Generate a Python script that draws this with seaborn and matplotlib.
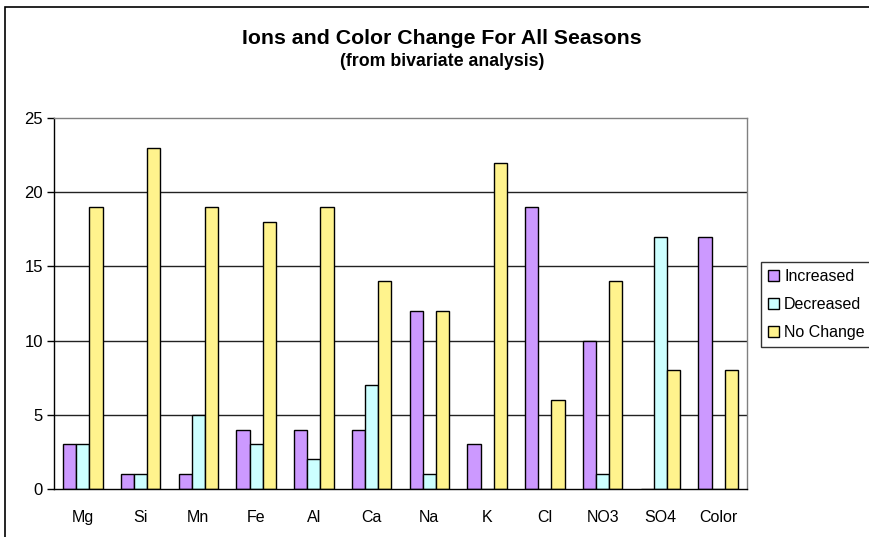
import matplotlib
matplotlib.use("Agg")
import matplotlib.pyplot as plt
import matplotlib.patches as mpatches
import numpy as np
import pandas as pd
import seaborn as sns

categories = ["Mg", "Si", "Mn", "Fe", "Al", "Ca", "Na", "K", "Cl", "NO3", "SO4", "Color"]
increased = [3, 1, 1, 4, 4, 4, 12, 3, 19, 10, 0, 17]
decreased = [3, 1, 5, 3, 2, 7, 1, 0, 0, 1, 17, 0]
no_change = [19, 23, 19, 18, 19, 14, 12, 22, 6, 14, 8, 8]
series_names = ["Increased", "Decreased", "No Change"]
colors = ["#CC99FF", "#CCFFFF", "#FFF38D"]

df = pd.DataFrame({
    "ion": categories * 3,
    "series": np.repeat(series_names, len(categories)),
    "count": increased + decreased + no_change,
})

sns.set_style("white")
plt.rcParams["font.family"] = ["Liberation Sans", "DejaVu Sans"]
plt.rcParams["text.color"] = "black"
plt.rcParams["xtick.color"] = "black"
plt.rcParams["ytick.color"] = "black"

fig = plt.figure(figsize=(8.69, 5.37), dpi=100)
ax = fig.add_axes([54 / 869, 1 - 489 / 537, (747 - 54) / 869, (489 - 118) / 537])

sns.barplot(data=df, x="ion", y="count", hue="series", order=categories,
            hue_order=series_names, palette=colors, edgecolor="black",
            linewidth=1, width=0.68, gap=0, ax=ax, legend=False, saturation=1)

ax.set_ylim(0, 25)
ax.set_xlim(-0.5, len(categories) - 0.5)
ax.set_yticks([0, 5, 10, 15, 20, 25])
ax.set_yticklabels(["0", "5", "10", "15", "20", "25"], fontsize=12)
ax.set_xticks(range(len(categories)))
ax.set_xticklabels(categories, fontsize=11.5)
ax.set_xticks(np.arange(-0.5, len(categories), 1), minor=True)
ax.tick_params(axis="x", which="major", length=0, pad=15)
ax.tick_params(axis="x", which="minor", length=5, width=1, color="black", direction="out")
ax.tick_params(axis="y", length=5, width=1, color="black", direction="out", pad=3, left=True)
ax.set_xlabel("")
ax.set_ylabel("")

for y in [5, 10, 15, 20]:
    ax.axhline(y, color="#222222", linewidth=1, zorder=0)

for side in ["left", "bottom"]:
    ax.spines[side].set_color("black")
    ax.spines[side].set_linewidth(1)
for side in ["top", "right"]:
    ax.spines[side].set_color("#808080")
    ax.spines[side].set_linewidth(1)
    ax.spines[side].set_visible(True)
ax.set_axisbelow(True)

fig.text(442 / 869, 1 - 39 / 537, "Ions and Color Change For All Seasons",
         ha="center", va="center", fontsize=15.3, fontweight="bold")
fig.text(442 / 869, 1 - 61 / 537, "(from bivariate analysis)",
         ha="center", va="center", fontsize=12.8, fontweight="bold")

handles = [mpatches.Patch(facecolor=c, edgecolor="black", linewidth=1) for c in colors]
leg = fig.legend(handles, series_names, loc="upper left",
                 bbox_to_anchor=(761 / 869, 1 - 262 / 537), bbox_transform=fig.transFigure,
                 fontsize=11.5, frameon=True, fancybox=False, handlelength=0.7,
                 handleheight=0.7, handletextpad=0.3, labelspacing=0.8,
                 borderpad=0.45, borderaxespad=0)
leg.get_frame().set_edgecolor("black")
leg.get_frame().set_linewidth(1)

border = mpatches.Rectangle((5 / 869, -0.05), 1.1, 1 - 7 / 537 + 0.05,
                            transform=fig.transFigure, fill=False,
                            edgecolor="black", linewidth=1.2, clip_on=False)
fig.patches.append(border)

fig.savefig("out.png", dpi=100)
